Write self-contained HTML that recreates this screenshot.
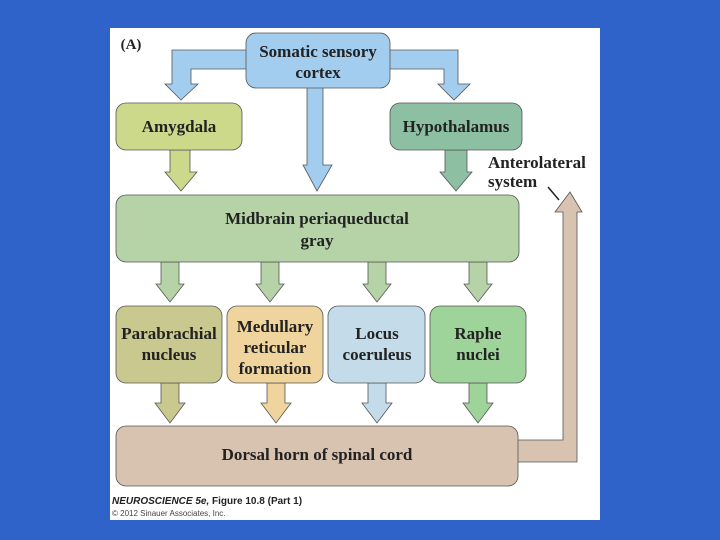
<!DOCTYPE html>
<html><head><style>
body{margin:0;width:720px;height:540px;background:#3063c9;overflow:hidden}
svg{position:absolute;left:0;top:0}
text{font-family:"Liberation Serif",serif;font-weight:bold;fill:#222;text-anchor:middle}
</style></head><body>
<svg width="720" height="540">
<rect x="110" y="28" width="490" height="492" fill="#fff"/>
<g stroke="#555" stroke-width="0.8">
<path d="M300,50 H172 V84 H165 L181,100 L198,84 H191 V69 H300 Z" fill="#a3cdef"/>
<path d="M340,50 H458 V84 H470 L454,100 L438,84 H444 V69 H340 Z" fill="#a3cdef"/>
<path d="M307,85 V165 H303 L317,191 L332,165 H323 V85 Z" fill="#a3cdef"/>
<rect x="246" y="33" width="144" height="55" rx="10" fill="#a3cdef"/>
<path d="M170,150 V172 H165 L181,191 L197,172 H190 V150 Z" fill="#cdd98a"/>
<path d="M445,150 V172 H440 L456,191 L472,172 H467 V150 Z" fill="#8dbfa2"/>
<rect x="116" y="103" width="126" height="47" rx="10" fill="#cdd98a"/>
<rect x="390" y="103" width="132" height="47" rx="10" fill="#8dbfa2"/>
<path d="M510,440 H563 V212 H555 L570,192 L582,212 H577 V462 H510 Z" fill="#d8c2b0"/>
<path d="M161,262 V284 H156 L170,302 L184,284 H179 V262 Z" fill="#b5d3a7"/>
<path d="M261,262 V284 H256 L270,302 L284,284 H279 V262 Z" fill="#b5d3a7"/>
<path d="M368,262 V284 H363 L377,302 L391,284 H386 V262 Z" fill="#b5d3a7"/>
<path d="M469,262 V284 H464 L478,302 L492,284 H487 V262 Z" fill="#b5d3a7"/>
<rect x="116" y="195" width="403" height="67" rx="10" fill="#b5d3a7"/>
<path d="M161,383 V403 H155 L170,423 L185,403 H179 V383 Z" fill="#c9c98f"/>
<path d="M267,383 V403 H261 L276,423 L291,403 H285 V383 Z" fill="#efd49e"/>
<path d="M368,383 V403 H362 L377,423 L392,403 H386 V383 Z" fill="#c4dcea"/>
<path d="M469,383 V403 H463 L478,423 L493,403 H487 V383 Z" fill="#9ed49a"/>
<rect x="116" y="306" width="106" height="77" rx="10" fill="#c9c98f"/>
<rect x="227" y="306" width="96" height="77" rx="10" fill="#efd49e"/>
<rect x="328" y="306" width="97" height="77" rx="10" fill="#c4dcea"/>
<rect x="430" y="306" width="96" height="77" rx="10" fill="#9ed49a"/>
<rect x="116" y="426" width="402" height="60" rx="10" fill="#d8c2b0"/>
</g>
<line x1="548" y1="187" x2="559" y2="200" stroke="#222" stroke-width="1.5"/>
<text x="131" y="49" font-size="15">(A)</text>
<g font-size="17">
<text x="318" y="57">Somatic sensory</text>
<text x="318" y="78">cortex</text>
<text x="179" y="132">Amygdala</text>
<text x="456" y="132">Hypothalamus</text>
<text x="317" y="224">Midbrain periaqueductal</text>
<text x="317" y="246">gray</text>
<text x="169" y="339">Parabrachial</text>
<text x="169" y="360">nucleus</text>
<text x="275" y="332">Medullary</text>
<text x="275" y="353">reticular</text>
<text x="275" y="374">formation</text>
<text x="377" y="339">Locus</text>
<text x="377" y="360">coeruleus</text>
<text x="478" y="339">Raphe</text>
<text x="478" y="360">nuclei</text>
<text x="317" y="460">Dorsal horn of spinal cord</text>
<text x="488" y="168" style="text-anchor:start">Anterolateral</text>
<text x="488" y="187" style="text-anchor:start">system</text>
</g>
<text x="112" y="504" font-size="10" style="text-anchor:start;font-family:'Liberation Sans',sans-serif;font-style:italic">NEUROSCIENCE 5e, <tspan font-style="normal">Figure 10.8 (Part 1)</tspan></text>
<text x="112" y="516" font-size="8" style="text-anchor:start;font-family:'Liberation Sans',sans-serif;font-weight:normal;fill:#444">© 2012 Sinauer Associates, Inc.</text>
</svg>
</body></html>
